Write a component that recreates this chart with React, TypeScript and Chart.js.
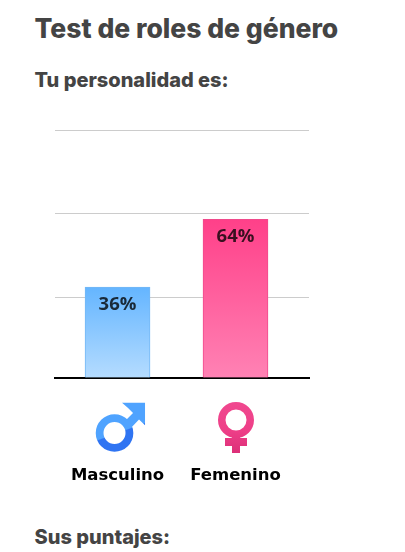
import React, { useEffect, useRef } from "react";
import { Chart, registerables } from "chart.js";

Chart.register(...registerables);

const categories = ["Masculino", "Femenino"];
const barValues = [36.7, 64];
const valueLabels = ["36%", "64%"];
const gridValues = [0, 32.6, 66.4, 100];
const categoryPositions = [0, 1];
const topColors = ["#64b5ff", "#ff4089"];
const bottomColors = ["#b5dcff", "#ff82b4"];
const borderColors = ["#74b8f5", "#f04a8c"];

const headingFont = "Inter, Lato, sans-serif";

function drawMale(ctx: CanvasRenderingContext2D, cx: number) {
  const ox = cx - 3;
  const oy = 433;
  const g = ctx.createLinearGradient(ox, oy + 0.5, ox + 0.4, oy + 1.6);
  g.addColorStop(0, "#4fa3ff");
  g.addColorStop(1, "#2f74f2");
  ctx.save();
  ctx.fillStyle = g;
  ctx.beginPath();
  ctx.arc(ox, oy, 18.8, 0, Math.PI * 2);
  ctx.arc(ox, oy, 11, 0, Math.PI * 2, true);
  ctx.fill("evenodd");
  ctx.beginPath();
  ctx.moveTo(ox + 7.5, oy - 30.3);
  ctx.lineTo(ox + 30.5, oy - 30.3);
  ctx.lineTo(ox + 30.5, oy - 7.7);
  ctx.lineTo(ox + 24.5, oy - 13.5);
  ctx.lineTo(ox + 13.5, oy - 2);
  ctx.lineTo(ox + 7.5, oy - 9);
  ctx.lineTo(ox + 18.5, oy - 20);
  ctx.lineTo(ox + 13.5, oy - 25);
  ctx.closePath();
  ctx.fill();
  ctx.restore();
}

function drawFemale(ctx: CanvasRenderingContext2D, cx: number) {
  const ox = cx + 0.5;
  const oy = 420;
  const g = ctx.createLinearGradient(ox, oy - 18, ox, oy + 33);
  g.addColorStop(0, "#f0488f");
  g.addColorStop(0.55, "#ee3f88");
  g.addColorStop(1, "#dc2f78");
  ctx.save();
  ctx.fillStyle = g;
  ctx.beginPath();
  ctx.arc(ox, oy, 18, 0, Math.PI * 2);
  ctx.arc(ox, oy, 10.5, 0, Math.PI * 2, true);
  ctx.fill("evenodd");
  ctx.fillRect(ox - 4, oy + 15, 8, 18);
  ctx.fillRect(ox - 11, oy + 18, 22, 8);
  ctx.restore();
}

const overlay = {
  id: "overlay",
  afterDatasetsDraw(chart: any) {
    const { ctx, scales } = chart;
    const meta = chart.getDatasetMeta(0);
    ctx.save();
    ctx.font = "700 18.5px 'Open Sans', sans-serif";
    ctx.textAlign = "center";
    ctx.textBaseline = "middle";
    ctx.fillStyle = "rgba(0,0,0,0.78)";
    meta.data.forEach((bar: any, i: number) => {
      ctx.fillText(valueLabels[i], bar.x, bar.y + 17.5);
    });
    ctx.restore();
    drawMale(ctx, scales.x.getPixelForValue(categoryPositions[0]));
    drawFemale(ctx, scales.x.getPixelForValue(categoryPositions[1]));
  },
};

export default function App() {
  const ref = useRef<HTMLCanvasElement>(null);
  useEffect(() => {
    const chart = new Chart(ref.current as HTMLCanvasElement, {
      type: "bar",
      data: {
        datasets: [
          {
            data: barValues.map((v, i) => ({ x: categoryPositions[i], y: v })),
            barThickness: 65,
            borderWidth: 1,
            borderColor: borderColors,
            backgroundColor: (c: any) => {
              const area = c.chart.chartArea;
              if (!area) return topColors[0];
              const top = c.chart.scales.y.getPixelForValue(barValues[c.dataIndex]);
              const g = c.chart.ctx.createLinearGradient(0, top, 0, area.bottom);
              g.addColorStop(0, topColors[c.dataIndex]);
              g.addColorStop(1, bottomColors[c.dataIndex]);
              return g;
            },
          },
        ],
      },
      options: {
        animation: false,
        responsive: false,
        layout: { padding: { left: 55, right: 96, top: 130, bottom: 0 } },
        plugins: { legend: { display: false }, tooltip: { enabled: false } },
        scales: {
          x: {
            type: "linear",
            offset: false,
            min: -0.53,
            max: 1.623,
            afterBuildTicks: (s: any) => {
              s.ticks = categoryPositions.map((value) => ({ value }));
            },
            afterFit: (s: any) => {
              s.height = 122;
              s.paddingLeft = 0;
              s.paddingRight = 0;
            },
            grid: { display: false },
            border: { color: "#000", width: 2 },
            ticks: {
              padding: 80,
              autoSkip: false,
              maxRotation: 0,
              color: "#000",
              font: { family: "'DejaVu Sans'", size: 16.5, weight: "bold" },
              callback: (v: any) => categories[v] ?? "",
            },
          },
          y: {
            min: 0,
            max: 100,
            afterBuildTicks: (s: any) => {
              s.ticks = gridValues.map((value) => ({ value }));
            },
            grid: { color: "#cccccc", lineWidth: 1, drawTicks: false },
            border: { display: false },
            ticks: { display: false },
          },
        },
      },
      plugins: [overlay],
    } as any);
    return () => chart.destroy();
  }, []);

  const text: React.CSSProperties = {
    position: "absolute",
    left: 34.5,
    margin: 0,
    color: "#444444",
    fontFamily: headingFont,
    fontWeight: 800,
    whiteSpace: "nowrap",
    lineHeight: 1,
  };

  return (
    <div style={{ position: "absolute", left: 0, top: 0, width: 405, height: 552, overflow: "hidden", background: "#fff" }}>
      <h1 style={{ ...text, top: 15, fontSize: 26.5 }}>Test de roles de género</h1>
      <h2 style={{ ...text, top: 70, fontSize: 20 }}>Tu personalidad es:</h2>
      <canvas ref={ref} width={405} height={500} style={{ position: "absolute", left: 0, top: 0 }} />
      <h2 style={{ ...text, top: 527, fontSize: 20 }}>Sus puntajes:</h2>
    </div>
  );
}
